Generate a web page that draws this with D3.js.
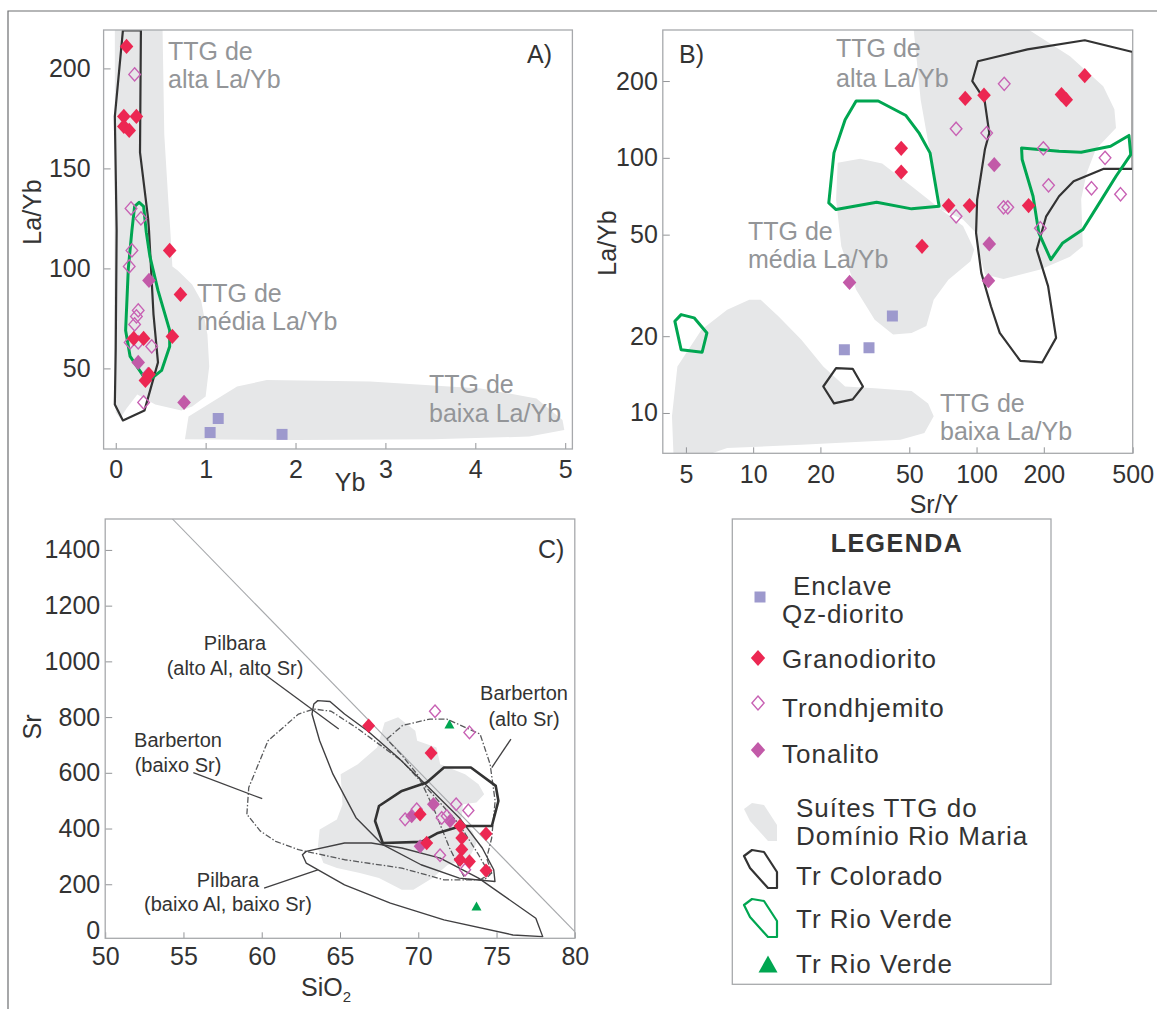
<!DOCTYPE html>
<html>
<head>
<meta charset="utf-8">
<script src="https://cdn.jsdelivr.net/npm/d3@7/dist/d3.min.js"></script>
<style>
  body { margin: 0; background: #fff; }
  text { font-family: "Liberation Sans", Arial, sans-serif; }
</style>
</head>
<body>
<svg id="fig" width="1157" height="1009"></svg>
<script>
(function (d3) {
    "use strict";

    /***** Données : A) La/Yb vs Yb *****/
    const aTicksX = [0, 1, 2, 3, 4, 5];
    const aTicksY = [50, 100, 150, 200];
    const aEnclave = [[1.14, 25], [1.05, 18], [1.85, 17]];
    const aGrano = [[0.12, 211], [0.09, 176], [0.23, 176], [0.09, 171], [0.15, 169], [0.60, 109],
        [0.72, 87], [0.20, 65], [0.31, 65], [0.63, 66], [0.33, 44], [0.37, 47]];
    const aTrond = [[0.21, 197], [0.17, 130], [0.28, 125], [0.18, 109], [0.15, 101], [0.25, 79],
        [0.23, 76], [0.21, 72], [0.16, 63], [0.25, 63], [0.40, 61], [0.31, 33]];
    const aTonal = [[0.37, 94], [0.25, 53], [0.36, 47], [0.76, 33]];
    const aField = [[-0.01, 222], [0.52, 222], [0.54, 167], [0.585, 134], [0.61, 117], [0.63, 101],
        [0.69, 99], [0.85, 92], [0.95, 84], [1.02, 67], [1.04, 51], [1.00, 36], [0.85, 31], [0.73, 29],
        [0.44, 32], [0.24, 37], [0.12, 30], [0.05, 25], [0.0, 28], [-0.02, 60], [-0.01, 150]];
    const aFieldBaixa = [[0.77, 14.6], [0.81, 25.9], [1.35, 40.9], [1.68, 44.2], [2.83, 43.4], [4.06, 40.0],
        [4.68, 35.0], [4.97, 24.2], [4.99, 19.2], [4.60, 15.9], [3.53, 14.6], [2.0, 14.2]];
    const aColorado = [[0.08, 219], [0.28, 219], [0.27, 158], [0.36, 125], [0.37, 119], [0.42, 77],
        [0.47, 53], [0.32, 29], [0.08, 24], [-0.01, 32], [0.0, 60], [0.01, 119], [-0.01, 176]];
    const aRioVerde = [[0.26, 133], [0.21, 131], [0.18, 119], [0.14, 100], [0.11, 69], [0.16, 56],
        [0.31, 46], [0.40, 45], [0.51, 49], [0.60, 61], [0.60, 69], [0.47, 89], [0.38, 106],
        [0.34, 118], [0.31, 131]];

    /***** Données : B) La/Yb vs Sr/Y *****/
    const bTicksX = [5, 10, 20, 50, 100, 200, 500];
    const bTicksY = [10, 20, 50, 100, 200];
    const bEnclave = [[42, 24], [25.6, 17.7], [33, 18]];
    const bGrano = [[46, 109], [46, 88], [89, 171], [108, 176], [305, 210], [240, 177], [252, 169],
        [75, 65], [93, 65], [171, 65], [57, 45]];
    const bTrond = [[133, 195], [81, 130], [111, 125], [199, 109], [376, 100], [210, 78], [327, 76],
        [441, 72], [132, 64], [138, 64], [81, 59], [193, 53]];
    const bTonal = [[120, 94], [114, 46], [113, 33], [27, 32.5]];
    const bFieldAlta = [[52.1, 330], [160, 330], [262, 250], [369, 191], [414, 155], [421, 131], [342, 108],
        [311, 87], [294, 69], [299, 45], [262, 41], [193, 36.5], [132, 33.5], [109, 34.9], [103, 42.4],
        [99.5, 50.8], [87, 57.3], [69.3, 62.7], [61.9, 104.6], [56.2, 169]];
    const bFieldMedia = [[23.9, 95.6], [30.1, 99.1], [37.8, 95], [51.2, 77.4], [69.3, 62.7], [87, 54],
        [97.6, 43.7], [94, 39.3], [74.8, 33.3], [64.3, 27.8], [59.6, 21.9], [51.2, 20.6], [42.3, 20.3],
        [35, 23.2], [28.9, 30.4], [24.8, 45], [23.5, 68.6]];
    const bFieldBaixa = [[4.41, 6.5], [4.33, 9.7], [4.58, 15.2], [5.87, 21.2], [7.65, 25.4], [9.61, 27.8],
        [10.8, 27.8], [13.0, 23.9], [16.4, 19.4], [20.6, 15.2], [25.8, 12.7], [35, 12.5], [51.2, 12.2],
        [60.7, 10.9], [64.3, 9.7], [58.4, 8.35], [45.6, 7.86], [16.4, 7.5], [7.65, 7.29], [5.23, 6.5]];
    const bColorado = [[101.4, 239], [169, 266], [305, 289], [500, 260], [500, 90.5], [369, 90.5],
        [272, 81], [234, 70.7], [205, 59], [186, 43.7], [209, 31.4], [227, 19.7], [197, 15.8],
        [157, 16.0], [127, 20.6], [116, 26.2], [105, 35.4], [99.5, 50.8], [100.6, 68.6], [109, 108],
        [114, 125], [108.5, 169], [95.7, 200]];
    const bColoradoSmall = [[20.6, 12.7], [23.5, 15.0], [27.9, 14.9], [31.0, 12.7], [27.9, 11.3], [23.0, 10.9]];
    const bRioVerde1 = [[21.8, 66.6], [23.0, 104.6], [25.8, 141], [28.9, 167], [36.3, 167], [48.3, 146.5],
        [55.2, 125.3], [61.9, 104.6], [68, 64.6], [51.2, 63.1], [35.7, 67], [23.5, 62.7]];
    const bRioVerde2 = [[159, 109.4], [234, 106.2], [294, 105.2], [398, 111], [481, 122.4], [490, 103],
        [421, 84.7], [355, 66.6], [299, 52.4], [243, 46.4], [215, 39.9], [190, 50.8], [179, 70.7],
        [160, 98.5]];
    const bRioVerde3 = [[4.46, 22.9], [4.76, 24.3], [5.44, 23.6], [6.21, 20.6], [5.91, 17.3], [4.76, 17.7]];

    /***** Données : C) Sr vs SiO2 *****/
    const cTicksX = [50, 55, 60, 65, 70, 75, 80];
    const cTicksY = [0, 200, 400, 600, 800, 1000, 1200, 1400];
    const cGrano = [[66.83, 769], [70.82, 671], [70.12, 451], [70.54, 348], [72.67, 409], [72.78, 366],
        [72.78, 325], [72.67, 288], [73.27, 282], [74.33, 381], [74.33, 249]];
    const cTrond = [[71.07, 821], [73.27, 745], [69.16, 433], [69.90, 469], [71.50, 438], [72.42, 487],
        [73.20, 465], [71.39, 304], [72.99, 252], [71.82, 445]];
    const cTonal = [[70.97, 487], [69.58, 445], [72.03, 427], [70.12, 336]];
    const cRioVerde = [[71.99, 773], [73.72, 120]];
    const cField = [[63.58, 330], [63.70, 396.5], [64.80, 432.6], [65.16, 486.7], [65.04, 594.8],
        [66.14, 630.9], [67.37, 691], [67.85, 781], [68.71, 799], [69.81, 751], [69.93, 715],
        [71.16, 691], [71.40, 631], [72.99, 595], [73.85, 559], [74.21, 523], [73.72, 493],
        [72.87, 487], [72.74, 427], [73.48, 390], [73.72, 348], [73.36, 306], [72.62, 282],
        [71.89, 270], [70.91, 222], [69.69, 180], [68.95, 180], [67.49, 222], [66.27, 240],
        [64.80, 258], [63.94, 276]];
    const cColorado = [[67.73, 348], [67.24, 427], [67.49, 481], [68.95, 535], [70.54, 565], [71.64, 619],
        [73.36, 619], [74.95, 553], [75.12, 499], [74.70, 409], [72.74, 409], [71.2, 383], [70.2, 352]];
    const cPilbaraAlto = [[63.58, 859], [64.36, 856], [65.29, 811], [66.75, 751], [68.71, 655], [70.67, 547],
        [72.62, 439], [74.09, 330], [74.82, 252], [74.90, 210], [72.62, 222], [70.18, 270], [67.73, 342],
        [66.02, 439], [64.55, 595], [63.70, 715], [63.21, 811], [63.33, 847]];
    const cPilbaraBaixo = [[62.60, 306], [62.84, 318], [65.29, 348], [67.00, 348], [68.95, 330], [71.40, 294],
        [73.85, 222], [77.51, 78], [77.95, 12], [76.05, 18], [71.64, 72], [68.22, 132], [65.29, 198],
        [62.84, 276]];
    const cBarbertonBaixo = [[59.05, 451], [59.17, 547], [60.40, 715], [62.35, 811], [63.33, 829], [64.43, 821],
        [66.02, 763], [68.95, 643], [70.91, 523], [72.62, 415], [73.85, 306], [74.58, 234], [74.21, 216],
        [71.64, 216], [68.95, 258], [65.29, 288], [62.35, 324], [60.89, 354], [59.91, 391]];
    const cBarbertonAlto = [[67.99, 721], [69.0, 770], [70.75, 793], [71.82, 793], [73.95, 739], [74.59, 631],
        [74.91, 499], [74.69, 366], [74.37, 294], [74.69, 240], [73.95, 216], [73.0, 218], [72.0, 330],
        [71.0, 470], [70.0, 590], [69.0, 660]];
    const cDiagonal = [[54.28, 1512], [80, 30]];
    const cLeaders = [[[60.15, 955], [64.92, 757]], [[75.92, 721], [74.70, 619]],
        [[55.63, 601], [60.03, 507]], [[60.15, 186], [63.58, 252]]];

    /***** Légende *****/
    const legendLabels = [["Enclave", "Qz-diorito"], ["Granodiorito"], ["Trondhjemito"], ["Tonalito"],
        ["Suítes TTG do", "Domínio Rio Maria"], ["Tr Colorado"], ["Tr Rio Verde"], ["Tr Rio Verde"]];

    /***** Couleurs *****/
    const colRed = "#ec2752", colTrond = "#c862b4", colTonal = "#c25aa8", colEncl = "#9d99cd";
    const colGreen = "#00a651", colField = "#e6e7e8", colLabel = "#939598", colInk = "#333333";

    const svg = d3.select("#fig");

    // cadre extérieur (haut et gauche)
    svg.append("path").attr("d", "M8,1009V11H1157")
        .attr("fill", "none").attr("stroke", "#6d6e71").attr("stroke-width", 1.2);

    /***** Échelles *****/
    const xA = d3.scaleLinear().domain([-0.135, 5.08]).range([103.6, 572.4]);
    const yA = d3.scaleLinear().domain([9.7, 219.2]).range([449, 30]);
    const xB = d3.scaleLog().domain([3.94, 500]).range([662.8, 1132.7]);
    const yB = d3.scaleLog().domain([6.95, 317]).range([453.3, 30]);
    const xC = d3.scaleLinear().domain([50, 80]).range([105.2, 574.8]);
    const yC = d3.scaleLinear().domain([6, 1511]).range([938.3, 519]);

    /***** Fonctions utilitaires *****/
    function makePanel(id, x, y) {
        const g = svg.append("g");
        const [x0, x1] = x.range();
        const [y1, y0] = y.range();
        g.append("clipPath").attr("id", "clip-" + id).append("rect")
            .attr("x", x0).attr("y", y0).attr("width", x1 - x0).attr("height", y1 - y0);
        const plot = g.append("g").attr("clip-path", "url(#clip-" + id + ")");
        return {g: g, plot: plot};
    }

    function shape(layer, pts, x, y, fill, stroke, width, dash) {
        const line = d3.line().x(d => x(d[0])).y(d => y(d[1]));
        layer.append("path")
            .attr("d", line(pts) + "Z")
            .attr("fill", fill)
            .attr("stroke", stroke)
            .attr("stroke-width", width)
            .attr("stroke-dasharray", dash || null)
            .attr("stroke-linejoin", "round");
    }

    function segment(layer, pts, x, y, stroke, width) {
        const line = d3.line().x(d => x(d[0])).y(d => y(d[1]));
        layer.append("path").attr("d", line(pts))
            .attr("fill", "none").attr("stroke", stroke).attr("stroke-width", width);
    }

    function diamond(hw, hh) {
        return "M0," + (-hh) + "L" + hw + ",0L0," + hh + "L" + (-hw) + ",0Z";
    }

    function symbolPath(kind, s) {
        if (kind === "enclave") return "M" + (-5.5 * s) + "," + (-5.5 * s) + "h" + (11 * s) + "v" + (11 * s) + "h" + (-11 * s) + "Z";
        if (kind === "trond") return diamond(5.8 * s, 6.6 * s);
        if (kind === "tri") return "M0," + (-5 * s) + "L" + (5 * s) + "," + (4 * s) + "L" + (-5 * s) + "," + (4 * s) + "Z";
        return diamond(6.8 * s, 7.6 * s);
    }

    function marks(layer, pts, x, y, kind, s) {
        const fill = {enclave: colEncl, grano: colRed, tonal: colTonal, trond: "#fff", tri: colGreen}[kind];
        layer.selectAll(null).data(pts).enter().append("path")
            .attr("transform", d => "translate(" + x(d[0]) + "," + y(d[1]) + ")")
            .attr("d", symbolPath(kind, s))
            .attr("fill", kind === "trond" ? "none" : fill)
            .attr("stroke", kind === "trond" ? colTrond : "none")
            .attr("stroke-width", 1.4);
    }

    function axes(g, x, y, ticksX, ticksY, padX, padY) {
        const bottom = y.range()[0];
        const left = x.range()[0];
        const ax = g.append("g").attr("transform", "translate(0," + bottom + ")")
            .call(d3.axisBottom(x).tickValues(ticksX).tickFormat(d3.format("d"))
                .tickSizeInner(-6).tickSizeOuter(0).tickPadding(padX));
        const ay = g.append("g").attr("transform", "translate(" + left + ",0)")
            .call(d3.axisLeft(y).tickValues(ticksY).tickFormat(d3.format("d"))
                .tickSizeInner(-7).tickSizeOuter(0).tickPadding(padY));
        [ax, ay].forEach(a => {
            a.attr("font-family", null).attr("font-size", null);
            a.select(".domain").remove();
            a.selectAll("line").attr("stroke", "#939598").attr("stroke-width", 1);
            a.selectAll("text").attr("font-size", 25).attr("fill", colInk);
        });
        const [x0, x1] = x.range();
        const [y1, y0] = y.range();
        g.append("rect").attr("x", x0).attr("y", y0).attr("width", x1 - x0).attr("height", y1 - y0)
            .attr("fill", "none").attr("stroke", "#a7a9ac").attr("stroke-width", 1.3);
        return ay;
    }

    function label(g, lines, px, py, dy, color, size, anchor) {
        lines.forEach((t, i) => {
            g.append("text").attr("x", px).attr("y", py + i * dy)
                .attr("font-size", size).attr("fill", color)
                .attr("text-anchor", anchor || "start").text(t);
        });
    }

    function yTitle(g, t, px, py) {
        g.append("text").attr("transform", "translate(" + px + "," + py + ") rotate(-90)")
            .attr("text-anchor", "middle").attr("font-size", 25).attr("fill", colInk).text(t);
    }

    /***** A) *****/
    const pA = makePanel("a", xA, yA);
    shape(pA.plot, aField, xA, yA, colField, "none", 0);
    shape(pA.plot, aFieldBaixa, xA, yA, colField, "none", 0);
    shape(pA.plot, aColorado, xA, yA, "none", colInk, 2.2);
    shape(pA.plot, aRioVerde, xA, yA, "none", colGreen, 3);
    marks(pA.plot, aEnclave, xA, yA, "enclave", 1);
    marks(pA.plot, aTonal, xA, yA, "tonal", 1);
    marks(pA.plot, aTrond, xA, yA, "trond", 1);
    marks(pA.plot, aGrano, xA, yA, "grano", 1);
    axes(pA.g, xA, yA, aTicksX, aTicksY, 11, 13);
    label(pA.g, ["TTG de", "alta La/Yb"], 168, 60, 28, colLabel, 25);
    label(pA.g, ["TTG de", "média La/Yb"], 197, 302, 28, colLabel, 25);
    label(pA.g, ["TTG de", "baixa La/Yb"], 429, 393, 29, colLabel, 25);
    label(pA.g, ["A)"], 527, 63, 0, colInk, 25);
    yTitle(pA.g, "La/Yb", 41, 212);
    label(pA.g, ["Yb"], 350, 491, 0, colInk, 25, "middle");

    /***** B) *****/
    const pB = makePanel("b", xB, yB);
    shape(pB.plot, bFieldAlta, xB, yB, colField, "none", 0);
    shape(pB.plot, bFieldMedia, xB, yB, colField, "none", 0);
    shape(pB.plot, bFieldBaixa, xB, yB, colField, "none", 0);
    shape(pB.plot, bColorado, xB, yB, "none", colInk, 2.2);
    shape(pB.plot, bColoradoSmall, xB, yB, "none", colInk, 2.2);
    shape(pB.plot, bRioVerde1, xB, yB, "none", colGreen, 3);
    shape(pB.plot, bRioVerde2, xB, yB, "none", colGreen, 3);
    shape(pB.plot, bRioVerde3, xB, yB, "none", colGreen, 3);
    marks(pB.plot, bEnclave, xB, yB, "enclave", 1);
    marks(pB.plot, bTonal, xB, yB, "tonal", 1);
    marks(pB.plot, bTrond, xB, yB, "trond", 1);
    marks(pB.plot, bGrano, xB, yB, "grano", 1);
    axes(pB.g, xB, yB, bTicksX, bTicksY, 12, 5);
    label(pB.g, ["TTG de", "alta La/Yb"], 836, 57, 30, colLabel, 25);
    label(pB.g, ["TTG de", "média La/Yb"], 748, 240, 28, colLabel, 25);
    label(pB.g, ["TTG de", "baixa La/Yb"], 940, 412, 28, colLabel, 25);
    label(pB.g, ["B)"], 679, 63, 0, colInk, 25);
    yTitle(pB.g, "La/Yb", 616, 243);
    label(pB.g, ["Sr/Y"], 934, 513, 0, colInk, 25, "middle");

    /***** C) *****/
    const pC = makePanel("c", xC, yC);
    shape(pC.plot, cField, xC, yC, colField, "none", 0);
    segment(pC.plot, cDiagonal, xC, yC, "#a7a9ac", 1.1);
    shape(pC.plot, cBarbertonBaixo, xC, yC, "none", "#58595b", 1.3, "6,2,1.5,2");
    shape(pC.plot, cBarbertonAlto, xC, yC, "none", "#58595b", 1.3, "6,2,1.5,2");
    shape(pC.plot, cPilbaraAlto, xC, yC, "none", "#414042", 1.4);
    shape(pC.plot, cPilbaraBaixo, xC, yC, "none", "#414042", 1.4);
    shape(pC.plot, cColorado, xC, yC, "none", colInk, 2.6);
    cLeaders.forEach(l => segment(pC.plot, l, xC, yC, "#414042", 1.3));
    marks(pC.plot, cTonal, xC, yC, "tonal", 0.95);
    marks(pC.plot, cTrond, xC, yC, "trond", 0.95);
    marks(pC.plot, cGrano, xC, yC, "grano", 0.95);
    marks(pC.plot, cRioVerde, xC, yC, "tri", 1);
    const ayC = axes(pC.g, xC, yC, cTicksX, cTicksY, 9, 5);
    // le zéro est posé sur l'axe, sans trait
    const zeroTick = ayC.selectAll(".tick").filter(d => d === 0);
    zeroTick.select("line").remove();
    zeroTick.select("text").attr("dy", "-0.05em");
    label(pC.g, ["Pilbara", "(alto Al, alto Sr)"], 235, 650, 25, colInk, 20, "middle");
    label(pC.g, ["Barberton", "(alto Sr)"], 524, 700, 26, colInk, 20, "middle");
    label(pC.g, ["Barberton", "(baixo Sr)"], 178, 747, 25, colInk, 20, "middle");
    label(pC.g, ["Pilbara", "(baixo Al, baixo Sr)"], 228, 887, 24, colInk, 20, "middle");
    label(pC.g, ["C)"], 538, 558, 0, colInk, 25);
    yTitle(pC.g, "Sr", 41, 727);
    const sio = pC.g.append("text").attr("x", 326).attr("y", 996).attr("text-anchor", "middle")
        .attr("font-size", 25).attr("fill", colInk);
    sio.append("tspan").text("SiO");
    sio.append("tspan").attr("font-size", 15).attr("dy", 6).text("2");

    /***** Légende *****/
    const leg = svg.append("g");
    leg.append("rect").attr("x", 732.3).attr("y", 519).attr("width", 318.7).attr("height", 465.3)
        .attr("fill", "#fff").attr("stroke", "#a7a9ac").attr("stroke-width", 1.3);
    leg.append("text").attr("x", 897).attr("y", 552).attr("text-anchor", "middle")
        .attr("font-size", 25).attr("font-weight", "bold").attr("letter-spacing", 1.5)
        .attr("fill", colInk).text("LEGENDA");

    const legendText = [[793, 595, 782, 623], [782, 668], [782, 717], [782, 763],
        [796, 817, 796, 845], [796, 885], [796, 928], [796, 973]];
    legendLabels.forEach((lines, i) => {
        const p = legendText[i];
        lines.forEach((t, j) => {
            leg.append("text").attr("x", p[j * 2]).attr("y", p[j * 2 + 1])
                .attr("font-size", 26).attr("letter-spacing", 1).attr("fill", colInk).text(t);
        });
    });

    const legendMarks = [["enclave", 760, 597, 1], ["grano", 758, 658, 1.05], ["trond", 758, 703, 1.05],
        ["tonal", 758, 750, 1.05], ["tri", 768, 965, 1.9]];
    legendMarks.forEach(m => {
        const fill = {enclave: colEncl, grano: colRed, tonal: colTonal, tri: colGreen}[m[0]];
        leg.append("path").attr("transform", "translate(" + m[1] + "," + m[2] + ")")
            .attr("d", symbolPath(m[0], m[3]))
            .attr("fill", m[0] === "trond" ? "none" : fill)
            .attr("stroke", m[0] === "trond" ? colTrond : "none").attr("stroke-width", 1.4);
    });

    // petits contours de la légende (même forme, trois styles)
    const glyph = "M0,6 L8,0 L20,2 L33,22 L33,38 L24,38 L6,18 Z";
    leg.append("path").attr("transform", "translate(744,803)").attr("d", glyph).attr("fill", colField);
    leg.append("path").attr("transform", "translate(744,850)").attr("d", glyph)
        .attr("fill", "none").attr("stroke", colInk).attr("stroke-width", 2.2).attr("stroke-linejoin", "round");
    leg.append("path").attr("transform", "translate(744,899)").attr("d", glyph)
        .attr("fill", "none").attr("stroke", colGreen).attr("stroke-width", 2.2).attr("stroke-linejoin", "round");

})(d3);
</script>
</body>
</html>
